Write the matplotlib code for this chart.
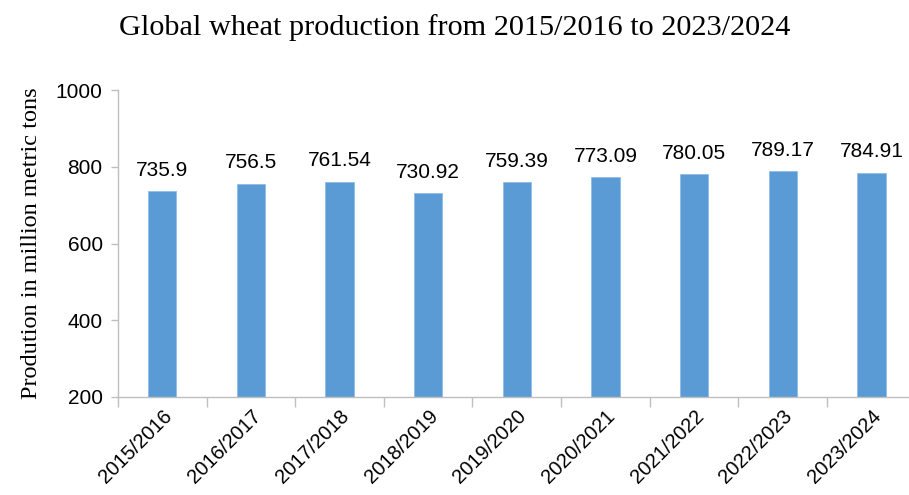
import numpy as np
import matplotlib
matplotlib.use("Agg")
import matplotlib.pyplot as plt

seasons = ["2015/2016", "2016/2017", "2017/2018", "2018/2019", "2019/2020",
           "2020/2021", "2021/2022", "2022/2023", "2023/2024"]
production = [735.9, 756.5, 761.54, 730.92, 759.39, 773.09, 780.05, 789.17, 784.91]
value_labels = ["735.9", "756.5", "761.54", "730.92", "759.39",
                "773.09", "780.05", "789.17", "784.91"]
y_ticks = [200, 400, 600, 800, 1000]

bar_color = "#5B9BD5"
axis_color = "#BFBFBF"
sans = "Liberation Sans"
serif = "Liberation Serif"

fig = plt.figure(figsize=(9.09, 4.95), dpi=100)
ax = fig.add_axes([0.1298, 0.198, 0.8775, 0.62])

x = np.arange(len(seasons))
ax.bar(x, production, width=0.32, color=bar_color, edgecolor="#8FBCE6", linewidth=0.6, zorder=2)

for xi, v, lab in zip(x, production, value_labels):
    ax.annotate(lab, (xi, v), xytext=(0, 8), textcoords="offset points",
                ha="center", va="bottom", fontsize=15, family=sans, color="black")

ax.set_xlim(-0.5, len(seasons) - 0.5)
ax.set_ylim(200, 1000)
ax.set_yticks(y_ticks)
ax.set_yticklabels([str(t) for t in y_ticks], fontsize=15, family=sans)

ax.set_xticks(x)
ax.set_xticklabels(seasons, rotation=45, ha="right", rotation_mode="anchor",
                   fontsize=14.5, family=sans)
ax.set_xticks(np.arange(len(seasons) + 1) - 0.5, minor=True)
ax.tick_params(axis="x", which="major", length=0, pad=7)
ax.tick_params(axis="x", which="minor", length=7, color=axis_color, width=1)
ax.tick_params(axis="y", length=5, color=axis_color, width=1, pad=6)

for s in ["top", "right"]:
    ax.spines[s].set_visible(False)
for s in ["left", "bottom"]:
    ax.spines[s].set_color(axis_color)
    ax.spines[s].set_linewidth(1)

ax.set_ylabel("Prodution in million metric tons", fontsize=17.5, family=serif, labelpad=10)
fig.text(0.5, 0.945, "Global wheat production from 2015/2016 to 2023/2024",
         ha="center", va="center", fontsize=21.8, family=serif)

fig.savefig("out.png", dpi=100)
